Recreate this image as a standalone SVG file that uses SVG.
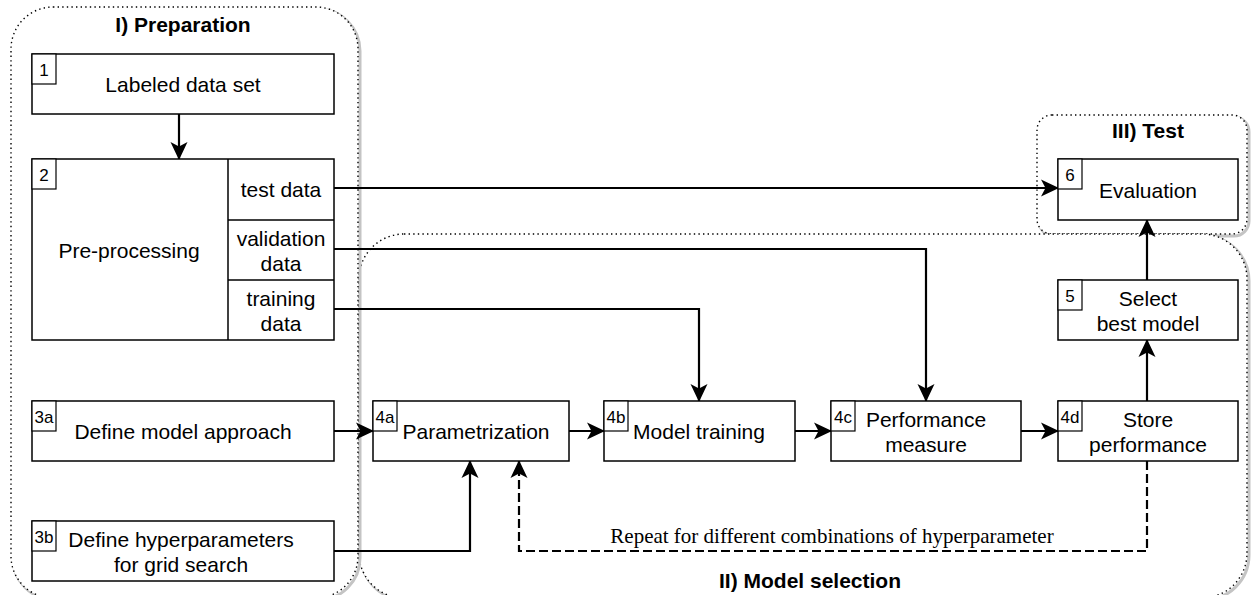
<svg xmlns="http://www.w3.org/2000/svg" width="1253" height="595" viewBox="0 0 1253 595">
<style>
.box{fill:#fff;stroke:#000;stroke-width:1.5}
.num{fill:#fff;stroke:#000;stroke-width:1.2}
.t{font-family:"Liberation Sans",Arial,sans-serif;font-size:21px;fill:#000;text-anchor:middle}
.n{font-family:"Liberation Sans",Arial,sans-serif;font-size:17px;fill:#000;text-anchor:middle}
.title{font-family:"Liberation Sans",Arial,sans-serif;font-size:21px;font-weight:bold;fill:#000;text-anchor:middle}
.serif{font-family:"Liberation Serif","Times New Roman",serif;font-size:21px;fill:#000;text-anchor:middle}
.cont{fill:#fff;stroke:#000;stroke-width:1.4;stroke-dasharray:1.4 3.2}
.shadow{fill:none;stroke:#c4c4c4;stroke-width:3}
.conn{fill:none;stroke:#000;stroke-width:2.2}
.dash{stroke-dasharray:9 4}
</style>
<defs>
<marker id="arr" markerUnits="userSpaceOnUse" markerWidth="18" markerHeight="18" viewBox="0 0 18 18" refX="17" refY="9" orient="auto">
<path d="M0,0.5 L18,9 L0,17.5 L4.5,9 Z" fill="#000"/>
</marker>
</defs>

<g id="container-test">
<rect class="shadow" x="1039" y="117" width="210" height="119" rx="15"/>
<rect class="cont" x="1037" y="115" width="210" height="119" rx="15" style="stroke:none"/>
<rect class="cont" x="1037" y="115" width="210" height="119" rx="15"/>
<text class="title" x="1148" y="138">III) Test</text>
</g>

<g id="container-model-selection">
<rect class="shadow" x="361" y="236" width="888" height="364" rx="45"/>
<rect class="cont" x="359" y="234" width="888" height="364" rx="45" style="stroke:none"/>
<rect class="cont" x="359" y="234" width="888" height="364" rx="45"/>
<text class="title" x="810" y="588">II) Model selection</text>
</g>

<g id="container-preparation">
<rect class="shadow" x="13" y="9" width="347" height="591" rx="42"/>
<rect class="cont" x="11" y="7" width="347" height="591" rx="42" style="stroke:none"/>
<rect class="cont" x="11" y="7" width="347" height="591" rx="42"/>
<text class="title" x="183" y="32">I) Preparation</text>
</g>

<g id="connectors">
<path class="conn" d="M179,114 V159" marker-end="url(#arr)"/>
<path class="conn" d="M334,188 H1058" marker-end="url(#arr)"/>
<path class="conn" d="M334,249 H926 V401" marker-end="url(#arr)"/>
<path class="conn" d="M334,309 H699 V401" marker-end="url(#arr)"/>
<path class="conn" d="M334,431 H373" marker-end="url(#arr)"/>
<path class="conn" d="M334,551 H470 V461" marker-end="url(#arr)"/>
<path class="conn" d="M569,431 H604" marker-end="url(#arr)"/>
<path class="conn" d="M795,431 H831" marker-end="url(#arr)"/>
<path class="conn" d="M1021,431 H1058" marker-end="url(#arr)"/>
<path class="conn" d="M1147,401 V340" marker-end="url(#arr)"/>
<path class="conn" d="M1147,280 V220" marker-end="url(#arr)"/>
<path class="conn dash" d="M1147,461 V551 H519 V461" marker-end="url(#arr)"/>
<text class="serif" x="832" y="543">Repeat for different combinations of hyperparameter</text>
</g>

<g id="node-1">
<rect class="box" x="32" y="54" width="302" height="60"/>
<rect class="num" x="32" y="54" width="24" height="30"/>
<text class="n" x="44" y="76">1</text>
<text class="t" x="183" y="92">Labeled data set</text>
</g>

<g id="node-2">
<rect class="box" x="32" y="159" width="302" height="181"/>
<line class="box" x1="228" y1="159" x2="228" y2="340"/>
<line class="box" x1="228" y1="220" x2="334" y2="220"/>
<line class="box" x1="228" y1="280" x2="334" y2="280"/>
<rect class="num" x="32" y="159" width="24" height="30"/>
<text class="n" x="44" y="181">2</text>
<text class="t" x="129" y="258">Pre-processing</text>
<text class="t" x="281" y="197">test data</text>
<text class="t" x="281" y="246">validation</text>
<text class="t" x="281" y="271">data</text>
<text class="t" x="281" y="306">training</text>
<text class="t" x="281" y="331">data</text>
</g>

<g id="node-3a">
<rect class="box" x="32" y="401" width="302" height="60"/>
<rect class="num" x="32" y="401" width="24" height="30"/>
<text class="n" x="44" y="423">3a</text>
<text class="t" x="183" y="439">Define model approach</text>
</g>

<g id="node-3b">
<rect class="box" x="32" y="521" width="302" height="60"/>
<rect class="num" x="32" y="521" width="24" height="30"/>
<text class="n" x="44" y="543">3b</text>
<text class="t" x="181" y="547">Define hyperparameters</text>
<text class="t" x="181" y="572">for grid search</text>
</g>

<g id="node-4a">
<rect class="box" x="373" y="401" width="196" height="60"/>
<rect class="num" x="373" y="401" width="24" height="30"/>
<text class="n" x="385" y="423">4a</text>
<text class="t" x="476" y="439">Parametrization</text>
</g>

<g id="node-4b">
<rect class="box" x="604" y="401" width="191" height="60"/>
<rect class="num" x="604" y="401" width="24" height="30"/>
<text class="n" x="616" y="423">4b</text>
<text class="t" x="699" y="439">Model training</text>
</g>

<g id="node-4c">
<rect class="box" x="831" y="401" width="190" height="60"/>
<rect class="num" x="831" y="401" width="24" height="30"/>
<text class="n" x="843" y="423">4c</text>
<text class="t" x="926" y="427">Performance</text>
<text class="t" x="926" y="452">measure</text>
</g>

<g id="node-4d">
<rect class="box" x="1058" y="401" width="180" height="60"/>
<rect class="num" x="1058" y="401" width="24" height="30"/>
<text class="n" x="1070" y="423">4d</text>
<text class="t" x="1148" y="427">Store</text>
<text class="t" x="1148" y="452">performance</text>
</g>

<g id="node-5">
<rect class="box" x="1058" y="280" width="180" height="60"/>
<rect class="num" x="1058" y="280" width="24" height="30"/>
<text class="n" x="1070" y="302">5</text>
<text class="t" x="1148" y="306">Select</text>
<text class="t" x="1148" y="331">best model</text>
</g>

<g id="node-6">
<rect class="box" x="1058" y="159" width="180" height="61"/>
<rect class="num" x="1058" y="159" width="24" height="30"/>
<text class="n" x="1070" y="181">6</text>
<text class="t" x="1148" y="198">Evaluation</text>
</g>
</svg>
